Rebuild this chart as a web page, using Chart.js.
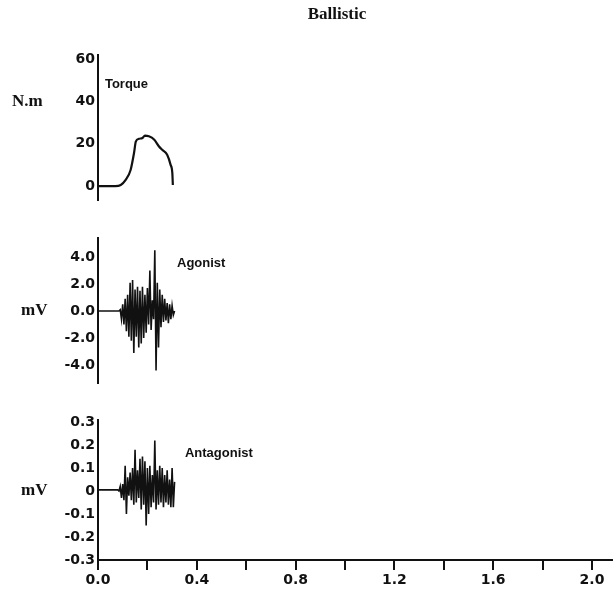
<!DOCTYPE html>
<html>
<head>
<meta charset="utf-8">
<title>Ballistic</title>
<script src="https://cdn.jsdelivr.net/npm/chart.js@4.4.1/dist/chart.umd.min.js"></script>
<style>
  html, body { margin: 0; padding: 0; background: #fff; }
  #wrap { position: relative; width: 613px; height: 608px; overflow: hidden; }
  canvas { position: absolute; left: 0; }
</style>
</head>
<body>
<div id="wrap">
  <canvas id="torqueChart" width="613" height="205" style="top:0"></canvas>
  <canvas id="agonistChart" width="613" height="160" style="top:230px"></canvas>
  <canvas id="antagonistChart" width="613" height="198" style="top:410px"></canvas>
</div>
<script>
// time axis (s)
const timeTicks = [0, 0.2, 0.4, 0.6, 0.8, 1.0, 1.2, 1.4, 1.6, 1.8, 2.0];
const timeTickLabels = ['0.0', '', '0.4', '', '0.8', '', '1.2', '', '1.6', '', '2.0'];

// torque trace (N.m)
const torqueTime = [0, 0.07, 0.092, 0.112, 0.132, 0.146, 0.153, 0.166, 0.18, 0.19, 0.206, 0.227, 0.247, 0.26, 0.28, 0.294, 0.301, 0.303];
const torqueNm   = [0, 0,    0.5,   2.9,   7.6,   15.7,  21,    22.3,  22.7, 23.8, 23.5,  22,    18.7,  17.1, 14.8, 10,    6,     0.5];
const torqueTicks = [0, 20, 40, 60];
const torqueTickLabels = ['0', '20', '40', '60'];

// EMG sample times (s), shared by both muscles
const emgTime = [0, 0.080, 0.085, 0.090, 0.095, 0.100, 0.105, 0.110, 0.115, 0.120, 0.125,
  0.130, 0.135, 0.140, 0.145, 0.150, 0.155, 0.160, 0.165, 0.170, 0.175,
  0.180, 0.185, 0.190, 0.195, 0.200, 0.205, 0.210, 0.215, 0.220, 0.225,
  0.230, 0.235, 0.240, 0.245, 0.250, 0.255, 0.260, 0.265, 0.270, 0.275,
  0.280, 0.285, 0.290, 0.295, 0.300, 0.305, 0.310];

// agonist EMG (mV)
const agonistMv = [0, 0, 0, 0.1, -0.6, 0.5, -1.0, 0.9, -1.5, 1.2, -1.9,
  2.1, -2.2, 2.3, -3.1, 1.6, -1.9, 1.8, -2.7, 1.5, -2.4,
  1.8, -2.0, 1.2, -1.6, 1.7, -1.0, 3.0, -1.4, 0.8, -0.6,
  4.5, -4.4, 2.1, -2.7, 1.6, -1.2, 1.2, -0.8, 0.9, -0.7,
  0.6, -0.9, 0.5, -0.6, 0.4, -0.3, 0];
const agonistTicks = [-4, -2, 0, 2, 4];
const agonistTickLabels = ['-4.0', '-2.0', '0.0', '2.0', '4.0'];

// antagonist EMG (mV)
const antagonistMv = [0.005, 0.005, 0, 0.02, -0.03, 0.03, -0.04, 0.11, -0.10, 0.06, -0.02,
  0.08, -0.04, 0.10, -0.06, 0.18, -0.05, 0.09, -0.03, 0.14, -0.08,
  0.15, -0.06, 0.13, -0.15, 0.10, -0.10, 0.11, -0.07, 0.07, -0.05,
  0.22, -0.08, 0.09, -0.06, 0.11, -0.05, 0.10, -0.07, 0.07, -0.05,
  0.09, -0.06, 0.05, -0.07, 0.10, -0.07, 0.04];
const antagonistTicks = [-0.3, -0.2, -0.1, 0, 0.1, 0.2, 0.3];
const antagonistTickLabels = ['-0.3', '-0.2', '-0.1', '0', '0.1', '0.2', '0.3'];

const INK = '#111';
const TICK_FONT = { family: '"DejaVu Sans", "Liberation Sans", sans-serif', size: 14, weight: 'bold' };
const TITLE = 'bold 17px "Liberation Serif", "Times New Roman", serif';
const UNIT = 'bold 17px "Liberation Serif", "Times New Roman", serif';
const LABEL = 'bold 13px "Liberation Sans Narrow", "Liberation Sans", Arial, sans-serif';

// draws the free text of each panel, positioned through the chart's scales
const panelText = {
  id: 'panelText',
  afterDraw(chart, args, opts) {
    const ctx = chart.ctx;
    const xs = chart.scales.x, ys = chart.scales.y;
    ctx.save();
    ctx.fillStyle = INK;
    ctx.textBaseline = 'middle';
    (opts.items || []).forEach(item => {
      ctx.font = item.font;
      ctx.textAlign = item.align || 'left';
      const px = item.px !== undefined ? item.px : xs.getPixelForValue(item.x);
      const py = item.py !== undefined ? item.py : ys.getPixelForValue(item.y);
      ctx.fillText(item.text, px, py);
    });
    ctx.restore();
  }
};

function toPoints(xs, ys) {
  return xs.map((x, i) => ({ x: x, y: ys[i] }));
}

function makePanel(id, opts) {
  const xAxis = {
    type: 'linear',
    min: 0,
    max: 2.085,
    display: !!opts.showX,
    afterBuildTicks: s => { s.ticks = timeTicks.map(v => ({ value: v })); },
    afterFit: s => {
      s.paddingLeft = 0; s.paddingRight = 0;
      if (opts.showX) s.height = 48;
    },
    border: { display: true, color: INK, width: 2 },
    grid: { display: true, drawOnChartArea: false, drawTicks: true, tickLength: 10, color: INK, lineWidth: 2 },
    ticks: {
      color: INK,
      font: TICK_FONT,
      padding: 2,
      maxRotation: 0,
      autoSkip: false,
      callback: (v, i) => timeTickLabels[i]
    }
  };
  const yAxis = {
    type: 'linear',
    min: opts.yMin,
    max: opts.yMax,
    afterBuildTicks: s => { s.ticks = opts.yTicks.map(v => ({ value: v })); },
    afterFit: s => { s.width = 98; s.paddingTop = 0; s.paddingBottom = 0; },
    border: { display: true, color: INK, width: 2 },
    grid: { display: false, drawTicks: false },
    ticks: {
      color: INK,
      font: TICK_FONT,
      padding: 3,
      autoSkip: false,
      callback: (v, i) => opts.yTickLabels[i]
    }
  };
  return new Chart(document.getElementById(id), {
    type: 'line',
    data: {
      datasets: [{
        data: toPoints(opts.xData, opts.yData),
        borderColor: INK,
        borderWidth: opts.lineWidth,
        pointRadius: 0,
        tension: 0,
        cubicInterpolationMode: opts.smooth ? 'monotone' : 'default'
      }]
    },
    options: {
      responsive: false,
      animation: false,
      layout: { padding: { left: 0, right: 0, top: opts.padTop, bottom: opts.padBottom } },
      scales: { x: xAxis, y: yAxis },
      plugins: {
        legend: { display: false },
        tooltip: { enabled: false },
        panelText: { items: opts.texts }
      }
    },
    plugins: [panelText]
  });
}

makePanel('torqueChart', {
  xData: torqueTime, yData: torqueNm,
  yMin: -6.6, yMax: 61.9, yTicks: torqueTicks, yTickLabels: torqueTickLabels,
  padTop: 55, padBottom: 5, lineWidth: 2.2, smooth: true,
  texts: [
    { text: 'Ballistic', px: 337, py: 15, font: TITLE, align: 'center' },
    { text: 'N.m', px: 12, y: 40, font: UNIT },
    { text: 'Torque', x: 0.028, y: 48, font: LABEL }
  ]
});

makePanel('agonistChart', {
  xData: emgTime, yData: agonistMv,
  yMin: -5.33, yMax: 5.41, yTicks: agonistTicks, yTickLabels: agonistTickLabels,
  padTop: 8, padBottom: 7, lineWidth: 1.6,
  texts: [
    { text: 'mV', px: 21, y: 0, font: UNIT },
    { text: 'Agonist', x: 0.32, y: 3.5, font: LABEL }
  ]
});

makePanel('antagonistChart', {
  xData: emgTime, yData: antagonistMv,
  yMin: -0.3, yMax: 0.309, yTicks: antagonistTicks, yTickLabels: antagonistTickLabels,
  padTop: 10, padBottom: 0, lineWidth: 1.6, showX: true,
  texts: [
    { text: 'mV', px: 21, y: 0, font: UNIT },
    { text: 'Antagonist', x: 0.352, y: 0.165, font: LABEL }
  ]
});
</script>
</body>
</html>
